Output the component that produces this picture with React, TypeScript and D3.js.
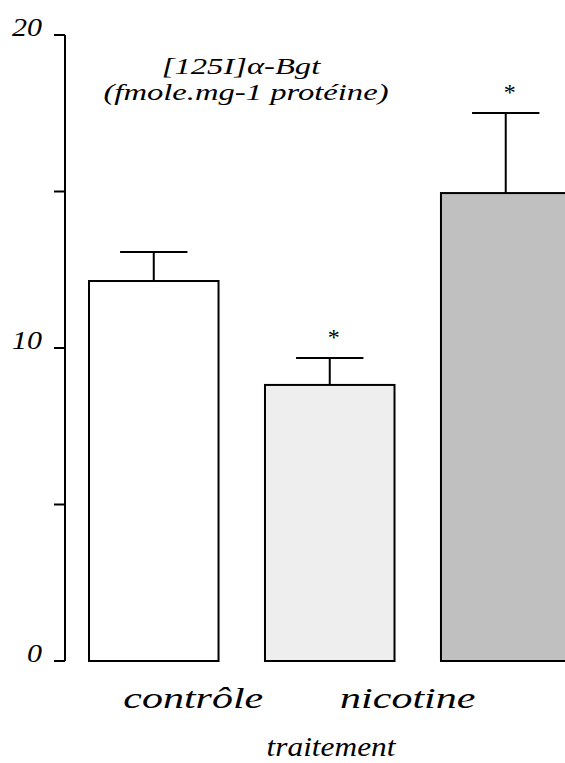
import React from "react";
import * as d3 from "d3";

const categories = ["contrôle", "nicotine", "groupe 3"];
const categoryLabels = ["contrôle", "nicotine", ""];
const means = [12.14, 8.82, 14.95];
const sems = [0.93, 0.86, 2.56];
const significant = [false, true, true];
const fills = ["#ffffff", "#eeeeee", "#c0c0c0"];
const yTicks = [0, 5, 10, 15, 20];
const yTickLabels = ["0", "", "10", "", "20"];
const titleLines = ["[125I]α-Bgt", "(fmole.mg-1 protéine)"];
const xAxisTitle = "traitement";

const W = 565;
const H = 763;
const FONT = "Liberation Serif";

function SText({ x, y, sx = 1, anchor = "middle", size, children }: any) {
  return (
    <text
      transform={`translate(${x},${y}) scale(${sx},1)`}
      textAnchor={anchor}
      style={{ fontFamily: FONT, fontStyle: "italic", fontSize: size }}
      fill="#000"
    >
      {children}
    </text>
  );
}

export default function App() {
  const y = d3.scaleLinear().domain([0, 20]).range([661, 35]);
  const x = d3
    .scaleBand<number>()
    .domain(categories.map((_, i) => i))
    .range([89, 570.5])
    .paddingInner(0.264)
    .paddingOuter(0);
  const bw = x.bandwidth();
  const capW = bw * 0.52;
  const axisX = 65;
  const labelShift = [39.5, 78, 0];

  return (
    <svg
      width={W}
      height={H}
      style={{ position: "absolute", left: 0, top: 0, background: "#fff" }}
    >
      <line x1={axisX} x2={axisX} y1={y(20)} y2={y(0)} stroke="#000" strokeWidth={2} />
      {yTicks.map((t, i) => (
        <g key={t}>
          <line x1={axisX - 11} x2={axisX} y1={y(t)} y2={y(t)} stroke="#000" strokeWidth={2} />
          {yTickLabels[i] && (
            <SText x={42} y={y(t) + 1} sx={1.2} anchor="end" size={25}>
              {yTickLabels[i]}
            </SText>
          )}
        </g>
      ))}

      {means.map((m, i) => {
        const bx = x(i)!;
        const cx = bx + bw / 2;
        const top = y(m);
        const errTop = y(m + sems[i]);
        return (
          <g key={i}>
            <line x1={cx} x2={cx} y1={top} y2={errTop} stroke="#000" strokeWidth={2} />
            <line x1={cx - capW / 2} x2={cx + capW / 2} y1={errTop} y2={errTop} stroke="#000" strokeWidth={2} />
            <rect x={bx} y={top} width={bw} height={y(0) - top} fill={fills[i]} stroke="#000" strokeWidth={2} />
            {significant[i] && (
              <text
                x={cx + 4}
                y={errTop - 13}
                textAnchor="middle"
                style={{ fontFamily: FONT, fontSize: 24 }}
                fill="#000"
              >
                *
              </text>
            )}
            {categoryLabels[i] && (
              <SText x={cx + labelShift[i]} y={708} sx={1.4} size={30}>
                {categoryLabels[i]}
              </SText>
            )}
          </g>
        );
      })}

      <SText x={241} y={74} sx={1.36} size={24}>
        {titleLines[0]}
      </SText>
      <SText x={246} y={100} sx={1.36} size={24}>
        {titleLines[1]}
      </SText>

      <SText x={331} y={756} sx={1.12} size={28}>
        {xAxisTitle}
      </SText>
    </svg>
  );
}
